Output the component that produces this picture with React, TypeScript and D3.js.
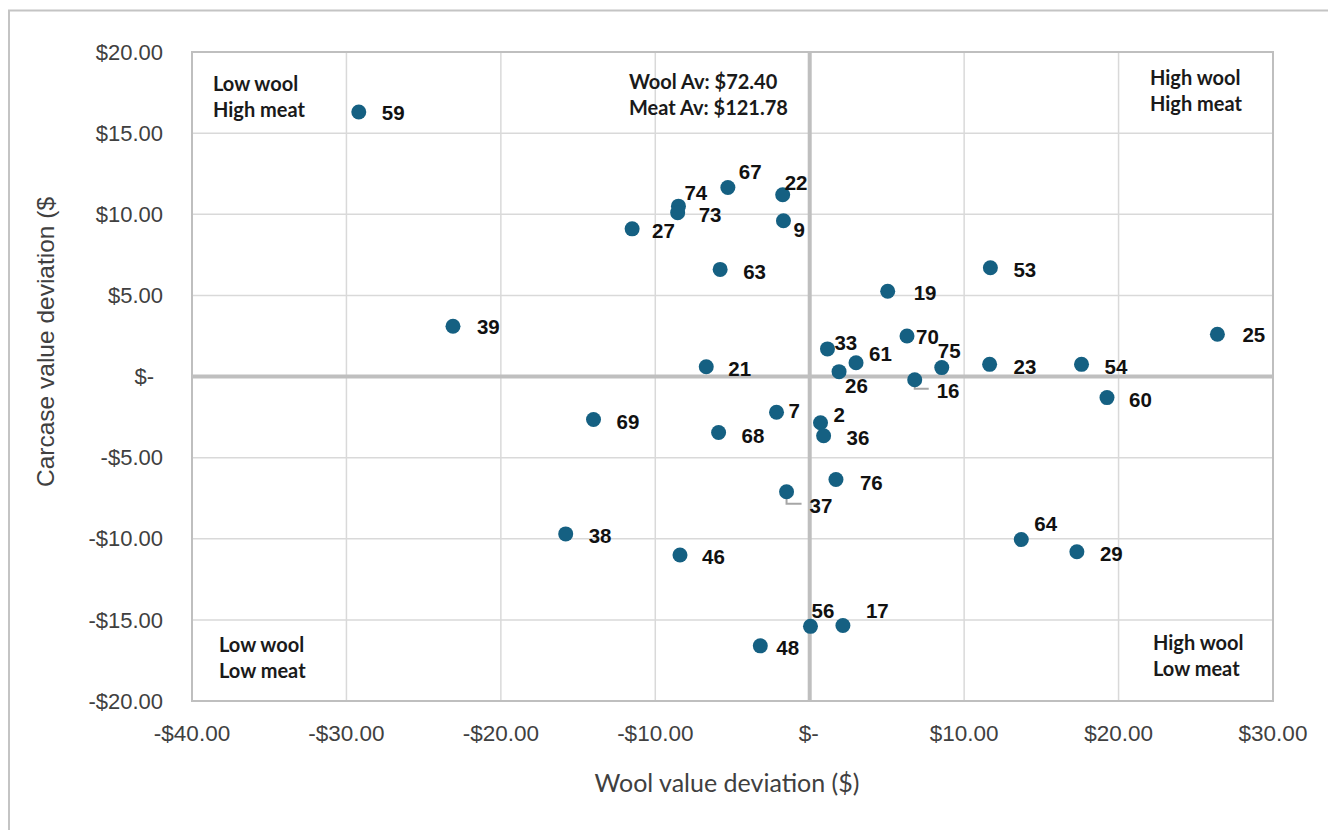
import React from "react";
import * as d3 from "d3";

// ---- data ----
const sireIds = [59, 39, 27, 74, 73, 67, 22, 9, 63, 19, 53, 70, 33, 61, 26, 16, 75, 23, 54, 25, 60, 21, 69, 68, 7, 2, 36, 76, 37, 38, 46, 64, 29, 56, 17, 48];
const woolDeviation = [-29.2, -23.1, -11.5, -8.5, -8.55, -5.3, -1.75, -1.7, -5.8, 5.05, 11.7, 6.3, 1.15, 3.0, 1.9, 6.8, 8.55, 11.65, 17.6, 26.4, 19.25, -6.7, -14.0, -5.9, -2.15, 0.7, 0.9, 1.7, -1.5, -15.8, -8.4, 13.7, 17.3, 0.05, 2.15, -3.2];
const carcaseDeviation = [16.3, 3.1, 9.1, 10.5, 10.1, 11.65, 11.2, 9.6, 6.6, 5.25, 6.7, 2.5, 1.7, 0.85, 0.3, -0.2, 0.55, 0.75, 0.75, 2.6, -1.3, 0.6, -2.65, -3.45, -2.2, -2.85, -3.65, -6.35, -7.1, -9.7, -11.0, -10.05, -10.8, -15.4, -15.35, -16.6];
const xTicks = [-40, -30, -20, -10, 0, 10, 20, 30];
const yTicks = [-20, -15, -10, -5, 0, 5, 10, 15, 20];
const quadrantLabels = [
  { lines: ["Low wool", "High meat"], corner: "tl" },
  { lines: ["Wool Av: $72.40", "Meat Av: $121.78"], corner: "tc" },
  { lines: ["High wool", "High meat"], corner: "tr" },
  { lines: ["Low wool", "Low meat"], corner: "bl" },
  { lines: ["High wool", "Low meat"], corner: "br" },
];

// label placement (pixel offsets from the marker centre), leader lines for some
const labelOffsets: Record<number, [number, number, boolean?]> = {
  59: [23, 1], 39: [24, 1], 27: [20, 2], 74: [6, -13], 73: [21, 2], 67: [11, -16],
  22: [2, -12], 9: [10, 9], 63: [23, 2], 19: [26, 2], 53: [23, 2], 70: [9, 1],
  33: [7, -6], 61: [13, -9], 26: [6, 14], 16: [22, 11, true], 75: [-4, -17],
  23: [24, 2], 54: [23, 2], 25: [25, 1], 60: [22, 2], 21: [22, 2], 69: [23, 2],
  68: [23, 3], 7: [12, -1], 2: [13, -8], 36: [23, 2], 76: [24, 3], 37: [23, 14, true],
  38: [23, 2], 46: [22, 2], 64: [13, -16], 29: [23, 2], 56: [1, -16], 17: [23, -15],
  48: [16, 2],
};

const W = 1328;
const H = 830;
const PL = 192, PR = 1273, PT = 52, PB = 701;

const fmt = (v: number) => (v === 0 ? "$-" : (v < 0 ? "-$" : "$") + Math.abs(v).toFixed(2));

export default function App() {
  const x = d3.scaleLinear().domain([-40, 30]).range([PL, PR]);
  const y = d3.scaleLinear().domain([-20, 20]).range([PB, PT]);
  const pts = sireIds.map((id, i) => ({ id, wx: woolDeviation[i], cy: carcaseDeviation[i] }));
  const qFont = "Lato, 'Open Sans', sans-serif";
  const aFont = "'Liberation Sans', Arial, sans-serif";

  const qPos: Record<string, [number, number]> = {
    tl: [213, 84], tc: [629, 82], tr: [1150, 78], bl: [219, 645], br: [1153, 643],
  };

  return (
    <svg width={W} height={H} style={{ position: "absolute", left: 0, top: 0, background: "#fff" }}>
      <rect x={0} y={0} width={W} height={H} fill="#fff" />
      {/* outer chart frame */}
      <rect x={9} y={10.5} width={W + 20} height={H + 20} fill="none" stroke="#c4c4c4" strokeWidth={2} />

      {/* gridlines */}
      {xTicks.map((t) => (
        <line key={"gx" + t} x1={x(t)} x2={x(t)} y1={PT} y2={PB} stroke="#d9d9d9" strokeWidth={1.5} />
      ))}
      {yTicks.map((t) => (
        <line key={"gy" + t} x1={PL} x2={PR} y1={y(t)} y2={y(t)} stroke="#d9d9d9" strokeWidth={1.5} />
      ))}
      <rect x={PL} y={PT} width={PR - PL} height={PB - PT} fill="none" stroke="#bfbfbf" strokeWidth={2} />
      {/* zero axes */}
      <line x1={x(0)} x2={x(0)} y1={PT} y2={PB} stroke="#bfbfbf" strokeWidth={4} />
      <line x1={PL} x2={PR} y1={y(0)} y2={y(0)} stroke="#bfbfbf" strokeWidth={4} />

      {/* tick labels */}
      {yTicks.map((t) => (
        <text key={"ty" + t} x={t === 0 ? 154 : 163} y={y(t)} dy="0.35em" textAnchor="end"
          fontFamily={aFont} fontSize={22} fill="#404040">{fmt(t)}</text>
      ))}
      {xTicks.map((t) => (
        <text key={"tx" + t} x={t === 0 ? x(t) - 1 : x(t)} y={733} dy="0.35em" textAnchor="middle"
          fontFamily={aFont} fontSize={22.5} fill="#404040">{fmt(t)}</text>
      ))}

      {/* axis titles */}
      <text x={727} y={783} dy="0.35em" textAnchor="middle" fontFamily={qFont} fontSize={25} fill="#404040">
        Wool value deviation ($)
      </text>
      <text transform={`translate(45, ${342}) rotate(-90)`} dy="0.35em" textAnchor="middle"
        fontFamily={aFont} fontSize={24.5} fill="#404040">
        Carcase value deviation ($
      </text>

      {/* quadrant labels */}
      {quadrantLabels.map((q, i) => (
        <text key={"q" + i} fontFamily={qFont} fontWeight={700} fontSize={20} fill="#1a1a1a">
          {q.lines.map((l, j) => (
            <tspan key={j} x={qPos[q.corner][0]} y={qPos[q.corner][1] + j * 26} dy="0.35em">{l}</tspan>
          ))}
        </text>
      ))}

      {/* leader lines */}
      {pts.filter((p) => labelOffsets[p.id][2]).map((p) => {
        const cx = x(p.wx), cy = y(p.cy);
        const [dx, dy] = labelOffsets[p.id];
        return (
          <polyline key={"ld" + p.id} fill="none" stroke="#a6a6a6" strokeWidth={2}
            points={`${cx},${cy} ${cx},${cy + dy - 2} ${cx + dx - 8},${cy + dy - 2}`} />
        );
      })}

      {/* points */}
      {pts.map((p) => (
        <circle key={"c" + p.id} cx={x(p.wx)} cy={y(p.cy)} r={7.5} fill="#156082" />
      ))}

      {/* data labels */}
      {pts.map((p) => {
        const [dx, dy] = labelOffsets[p.id];
        return (
          <text key={"l" + p.id} x={x(p.wx) + dx} y={y(p.cy) + dy} dy="0.35em"
            fontFamily={aFont} fontWeight={700} fontSize={20.5} fill="#111">
            {p.id}
          </text>
        );
      })}
    </svg>
  );
}
